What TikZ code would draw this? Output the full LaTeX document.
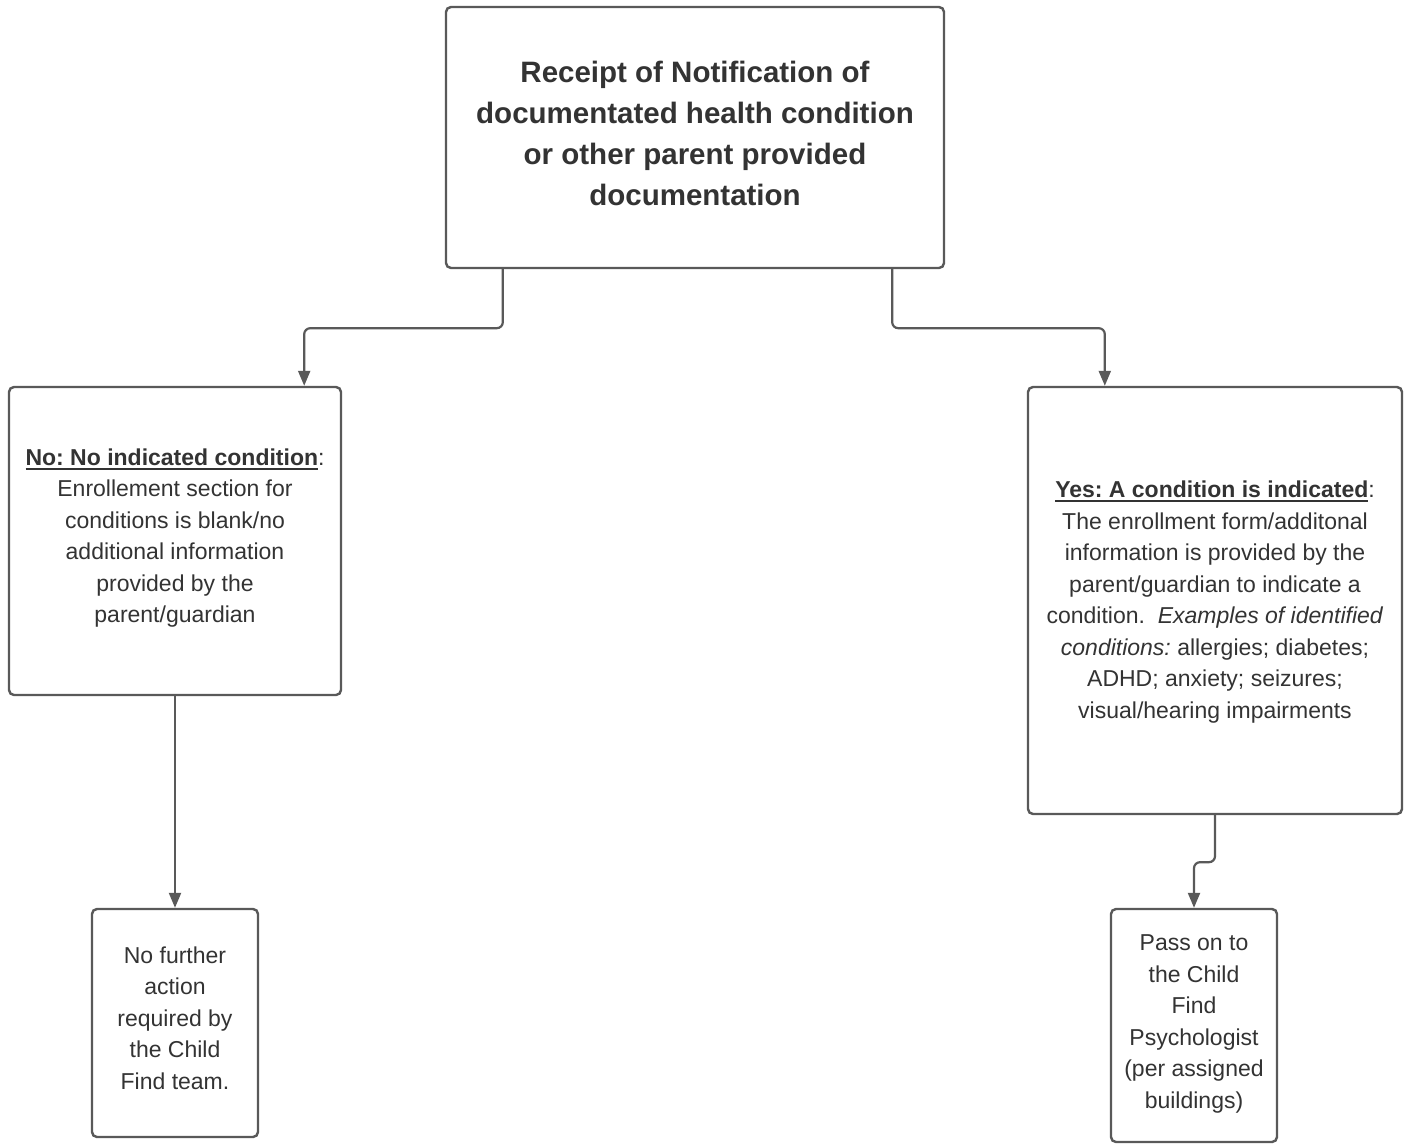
\documentclass[tikz,border=0pt]{standalone}
\usepackage{fontspec}
\setmainfont{Liberation Sans}
\usetikzlibrary{arrows.meta,calc}
\definecolor{txt}{HTML}{333333}
\definecolor{ln}{HTML}{595959}
\newcommand\myul[1]{\leavevmode\vtop{\hbox{#1}\kern 2.5pt\hrule height 1.8pt}}
\frenchspacing
\begin{document}
\begin{tikzpicture}[x=1pt,y=-1pt,
  box/.style={draw=ln, line width=2.4pt, rounded corners=5pt, inner sep=0pt, align=center, text=txt,
    font=\fontsize{23}{31.5}\selectfont},
  btxt/.style={text=txt, align=center, font=\fontsize{23}{31.5}\selectfont, inner sep=0pt},
  conn/.style={draw=ln, line width=2.2pt, rounded corners=6pt, -{Triangle[length=15pt,width=12pt]}}]
\useasboundingbox[fill=white] (0,0) rectangle (1408,1143);

\node[box, minimum width=498pt, minimum height=261pt] (top) at (695,137.5) {};
\node[btxt, font=\fontsize{29.5}{41}\selectfont\bfseries] (toptxt) at (695,133.5)
  {Receipt of Notification of\\documentated health condition\\or other parent provided\\documentation};

\node[box, minimum width=332pt, minimum height=308pt] (left) at (175,541) {};
\node[btxt] (lefttxt) at (175,538)
  {\myul{\bfseries No: No indicated condition}:\\Enrollement section for\\conditions is blank/no\\additional information\\provided by the\\parent/guardian};

\node[box, minimum width=374pt, minimum height=427pt] (right) at (1215,600.5) {};
\node[btxt] (righttxt) at (1215,602)
  {\myul{\bfseries Yes: A condition is indicated}:\\The enrollment form/additonal\\information is provided by the\\parent/guardian to indicate a\\condition.\ \ \textit{Examples of identified}\\\textit{conditions:} allergies; diabetes;\\ADHD; anxiety; seizures;\\visual/hearing impairments};

\node[box, minimum width=166pt, minimum height=228pt] (bl) at (175,1023) {};
\node[btxt] (bltxt) at (175,1018)
  {No further\\action\\required by\\the Child\\Find team.};

\node[box, minimum width=166pt, minimum height=233pt] (br) at (1194,1025.5) {};
\node[btxt] (brtxt) at (1194,1024)
  {Pass on to\\the Child\\Find\\Psychologist\\(per assigned\\buildings)};

\coordinate (t1) at ($(top.south west)+(58,0)$);
\coordinate (t2) at ($(top.south east)+(-53,0)$);
\coordinate (l1) at ($(left.north east)+(-38,0)$);
\coordinate (r1) at ($(right.north west)+(78,0)$);

\draw[conn] (t1) -- ++(0,59) -| (l1);
\draw[conn] (t2) -- ++(0,59) -| (r1);
\draw[conn] (left.south) -- (bl.north);
\draw[conn] (right.south) -- ++(0,47) -| (br.north);
\end{tikzpicture}
\end{document}
